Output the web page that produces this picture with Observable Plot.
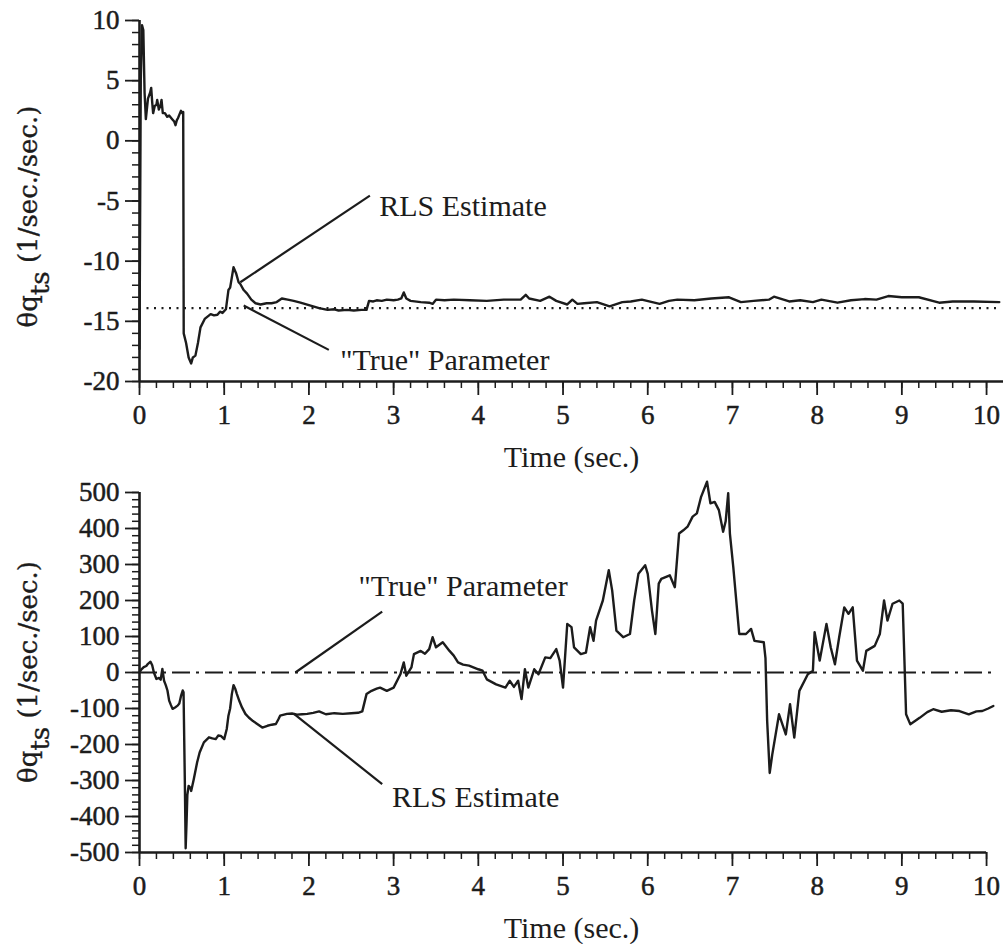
<!DOCTYPE html>
<html>
<head>
<meta charset="utf-8">
<script src="https://cdn.jsdelivr.net/npm/d3@7"></script>
<script src="https://cdn.jsdelivr.net/npm/@observablehq/plot@0.6"></script>
<style>
  html, body { margin: 0; padding: 0; background: #fff; }
  #chart svg { display: block; }
</style>
</head>
<body>
<div id="chart"></div>
<script>
// ---- data ----
const timeTicks = [0, 1, 2, 3, 4, 5, 6, 7, 8, 9, 10];
const topYTicks = [-20, -15, -10, -5, 0, 5, 10];
const bottomYTicks = [-500, -400, -300, -200, -100, 0, 100, 200, 300, 400, 500];
const xLabel = "Time (sec.)";
const trueTop = -13.9;     // "True" parameter, upper panel
const trueBottom = 0;      // "True" parameter, lower panel

// upper panel RLS estimate [time, value]
const rlsTop = [
  [0, -17.3], [0.015, 5.0], [0.03, 9.6], [0.045, 9.2], [0.06, 4.0], [0.075, 1.8], [0.1, 3.5], [0.125, 4.0],
  [0.138, 4.4], [0.15, 3.2], [0.161, 2.3], [0.18, 2.9], [0.2, 3.0], [0.209, 3.4], [0.228, 2.6], [0.25, 3.0],
  [0.26, 3.4], [0.275, 2.3], [0.3, 2.3], [0.327, 2.0], [0.35, 2.1], [0.386, 1.8], [0.41, 1.6], [0.425, 1.3],
  [0.44, 1.7], [0.455, 1.9], [0.472, 2.2], [0.49, 2.5], [0.505, 2.3], [0.516, 2.4], [0.522, -16.0], [0.55, -16.8],
  [0.58, -18.0], [0.61, -18.5], [0.63, -18.0], [0.66, -17.85], [0.69, -16.8], [0.72, -15.5], [0.77, -14.8],
  [0.84, -14.4], [0.88, -14.5], [0.92, -14.45], [0.95, -14.2], [0.98, -14.3], [1.02, -14.0], [1.05, -12.4],
  [1.07, -12.2], [1.11, -10.5], [1.14, -11.0], [1.17, -11.75], [1.19, -11.9], [1.23, -12.4], [1.27, -12.7],
  [1.32, -13.2], [1.37, -13.5], [1.43, -13.6], [1.5, -13.5], [1.56, -13.5], [1.62, -13.4], [1.68, -13.1],
  [1.75, -13.2], [1.82, -13.3], [1.9, -13.45], [2.02, -13.7], [2.12, -13.9], [2.22, -14.05], [2.3, -14.0],
  [2.35, -14.1], [2.45, -14.05], [2.53, -14.1], [2.62, -14.05], [2.68, -14.05], [2.71, -13.3], [2.76, -13.35],
  [2.8, -13.25], [2.86, -13.3], [2.92, -13.2], [3.0, -13.25], [3.05, -13.2], [3.09, -13.1], [3.12, -12.6],
  [3.15, -13.1], [3.2, -13.3], [3.32, -13.4], [3.42, -13.45], [3.46, -13.55], [3.5, -13.2], [3.6, -13.25],
  [3.71, -13.2], [3.9, -13.25], [4.1, -13.3], [4.3, -13.2], [4.5, -13.2], [4.56, -12.8], [4.6, -13.1],
  [4.73, -13.3], [4.84, -12.95], [4.92, -13.3], [5.05, -13.6], [5.11, -13.2], [5.17, -13.55], [5.25, -13.5],
  [5.4, -13.4], [5.55, -13.75], [5.7, -13.4], [5.8, -13.35], [5.93, -13.2], [6.14, -13.55], [6.25, -13.3],
  [6.35, -13.2], [6.55, -13.25], [6.75, -13.1], [6.96, -13.0], [7.1, -13.4], [7.25, -13.3], [7.43, -13.2],
  [7.49, -12.95], [7.67, -13.35], [7.8, -13.25], [7.95, -13.4], [8.05, -13.2], [8.24, -13.45], [8.4, -13.25],
  [8.56, -13.15], [8.7, -13.2], [8.84, -12.9], [9.0, -13.0], [9.2, -13.0], [9.44, -13.45], [9.6, -13.35],
  [9.85, -13.35], [10.15, -13.4]
];

// lower panel RLS estimate [time, value]
const rlsBottom = [
  [0, 0], [0.02, 8], [0.05, 15], [0.08, 18], [0.1, 24], [0.13, 30], [0.15, 20], [0.17, 0], [0.2, -18],
  [0.23, -15], [0.25, -20], [0.27, 10], [0.29, -23], [0.31, -35], [0.33, -50], [0.35, -78], [0.37, -90],
  [0.39, -101], [0.42, -97], [0.45, -92], [0.47, -86], [0.49, -65], [0.51, -50], [0.52, -55], [0.535, -300],
  [0.545, -488], [0.555, -420], [0.565, -340], [0.58, -315], [0.6, -320], [0.61, -329], [0.64, -297],
  [0.68, -250], [0.71, -222], [0.76, -194], [0.82, -180], [0.86, -183], [0.9, -185], [0.93, -175],
  [0.96, -176], [1.0, -185], [1.03, -157], [1.05, -120], [1.07, -100], [1.09, -60], [1.11, -35], [1.13, -45],
  [1.15, -60], [1.18, -80], [1.21, -97], [1.25, -115], [1.29, -125], [1.34, -135], [1.39, -143], [1.45, -153],
  [1.51, -148], [1.56, -145], [1.61, -143], [1.64, -130], [1.66, -120], [1.74, -115], [1.8, -114],
  [1.86, -117], [1.92, -116], [1.98, -115], [2.05, -112], [2.12, -108], [2.2, -116], [2.3, -113], [2.4, -115],
  [2.5, -113], [2.58, -112], [2.63, -108], [2.68, -60], [2.74, -51], [2.8, -45], [2.84, -42], [2.92, -51],
  [3.0, -42], [3.08, -5], [3.12, 28], [3.15, -9], [3.21, 14], [3.24, 51], [3.32, 60], [3.37, 52], [3.42, 65],
  [3.46, 98], [3.5, 70], [3.58, 84], [3.66, 60], [3.71, 47], [3.76, 28], [3.82, 22], [3.89, 19], [4.0, 9],
  [4.05, 5], [4.1, -19], [4.21, -33], [4.32, -42], [4.37, -23], [4.42, -40], [4.47, -23], [4.51, -74],
  [4.55, 9], [4.59, -42], [4.66, 9], [4.71, -5], [4.79, 42], [4.85, 40], [4.92, 65], [4.96, 33], [5.0, -42],
  [5.05, 135], [5.1, 126], [5.13, 70], [5.21, 51], [5.27, 55], [5.32, 126], [5.36, 88], [5.39, 144],
  [5.47, 200], [5.54, 284], [5.58, 228], [5.63, 116], [5.71, 98], [5.79, 107], [5.84, 200], [5.89, 274],
  [5.97, 298], [6.0, 274], [6.05, 172], [6.09, 107], [6.13, 247], [6.16, 260], [6.26, 270], [6.32, 237],
  [6.37, 386], [6.42, 395], [6.47, 405], [6.53, 433], [6.58, 442], [6.63, 488], [6.7, 530], [6.74, 470],
  [6.79, 474], [6.84, 451], [6.89, 391], [6.92, 420], [6.95, 498], [6.97, 386], [7.01, 293], [7.08, 107],
  [7.16, 107], [7.22, 121], [7.26, 88], [7.37, 84], [7.39, 40], [7.41, -135], [7.44, -279], [7.47, -228],
  [7.55, -116], [7.63, -172], [7.68, -88], [7.73, -181], [7.79, -51], [7.89, -5], [7.95, 5], [7.97, 112],
  [8.03, 33], [8.11, 135], [8.16, 70], [8.21, 23], [8.26, 98], [8.32, 181], [8.37, 163], [8.42, 181],
  [8.47, 33], [8.54, 5], [8.58, 60], [8.68, 74], [8.74, 107], [8.79, 200], [8.83, 144], [8.89, 191],
  [8.97, 200], [9.01, 191], [9.05, -116], [9.1, -144], [9.21, -126], [9.3, -110], [9.37, -102], [9.47, -109],
  [9.58, -105], [9.68, -107], [9.79, -116], [9.88, -108], [9.95, -107], [10.02, -100], [10.08, -93]
];

// annotations: leader lines [t1, v1, t2, v2] and labels [t, v, text]
const leadersTop = [[1.19, -11.75, 2.72, -4.55], [1.23, -13.69, 2.235, -17.37]];
const labelsTop = [[2.83, -5.45, "RLS Estimate"], [2.37, -18.26, "\"True\" Parameter"]];
const leadersBottom = [[1.84, 0, 2.865, 169], [1.82, -114.5, 2.865, -310]];
const labelsBottom = [[2.585, 239, "\"True\" Parameter"], [2.98, -347, "RLS Estimate"]];

// ---- chart ----
const INK = "#1c1c1c";
const SERIF = "Liberation Serif";
const xDomain = [0, 10.2];
const xMinor = d3.range(0, 10.0001, 0.2).map(d => +d.toFixed(1));

function panel({yDomain, yMajor, yMinor, series, trueVal, trueEnd, trueDash, xAxisEnd, leaders, labels, height, marginTop, marginBottom, yLabelShift}) {
  const lineData = series.map(([t, v]) => ({t, v}));
  const plot = Plot.plot({
    width: 1007,
    height,
    marginLeft: 139,
    marginRight: 4,
    marginTop,
    marginBottom,
    x: {domain: xDomain},
    y: {domain: yDomain},
    style: {fontFamily: SERIF, fontSize: "27px", color: INK, background: "#fff", overflow: "visible"},
    marks: [
      // minor ticks
      Plot.tickY(yMinor, {y: d => d, frameAnchor: "left", dx: 0}) && Plot.axisY({ticks: yMinor, tickSize: 7, strokeWidth: 1.5, tickFormat: () => "", label: null}),
      Plot.axisX({ticks: xMinor, tickSize: 7, strokeWidth: 1.5, tickFormat: () => "", label: null}),
      // major ticks
      Plot.axisY({ticks: yMajor, tickSize: 14, strokeWidth: 1.8, tickFormat: () => "", label: null}),
      Plot.axisX({ticks: timeTicks, tickSize: 14, strokeWidth: 1.8, tickFormat: () => "", label: null}),
      // tick labels
      Plot.text(yMajor, {y: d => d, frameAnchor: "left", dx: -20, textAnchor: "end", lineAnchor: "middle",
        text: d => String(d), fontFamily: SERIF, fontSize: 27, fill: INK, stroke: INK, strokeWidth: 0.5}),
      Plot.text(timeTicks, {x: d => d, frameAnchor: "bottom", dy: 34, lineAnchor: "middle",
        text: d => String(d), fontFamily: SERIF, fontSize: 27, fill: INK, stroke: INK, strokeWidth: 0.5}),
      // axis lines
      Plot.ruleX([{x: 0, a: yDomain[0], b: yDomain[1]}], {x: "x", y1: "a", y2: "b", stroke: INK, strokeWidth: 2.6}),
      Plot.ruleY([{y: yDomain[0], a: 0, b: xAxisEnd}], {y: "y", x1: "a", x2: "b", stroke: INK, strokeWidth: 2.6}),
      // "True" parameter
      Plot.ruleY([{y: trueVal, a: 0, b: trueEnd}], {y: "y", x1: "a", x2: "b", stroke: INK, strokeWidth: 2.2, strokeDasharray: trueDash}),
      // RLS estimate
      Plot.line(lineData, {x: "t", y: "v", stroke: INK, strokeWidth: 2.4, strokeLinejoin: "round"}),
      // leaders & labels
      Plot.link(leaders, {x1: d => d[0], y1: d => d[1], x2: d => d[2], y2: d => d[3], stroke: INK, strokeWidth: 2.2}),
      Plot.text(labels, {x: d => d[0], y: d => d[1], text: d => d[2], textAnchor: "start", lineAnchor: "middle", fontSize: 30, fontFamily: SERIF, fill: INK}),
      Plot.text([xLabel], {frameAnchor: "bottom", dy: 76, lineAnchor: "middle", fontSize: 30, fontFamily: SERIF, fill: INK})
    ]
  });
  // y-axis title with subscript
  const yr = plot.scale("y").range;
  const cy = (yr[0] + yr[1]) / 2 + yLabelShift;
  const t = d3.select(plot).append("text")
    .attr("transform", `translate(37,${cy}) rotate(-90)`)
    .attr("text-anchor", "middle")
    .attr("fill", INK)
    .attr("stroke", INK)
    .attr("stroke-width", 0.35)
    .attr("font-family", "DejaVu Serif")
    .attr("font-size", 26);
  t.append("tspan").text("θq");
  t.append("tspan").attr("dy", 12).text("ts");
  t.append("tspan").attr("dy", -12).text(" (1/sec./sec.)");
  return plot;
}

const chart = document.getElementById("chart");
chart.append(panel({
  yDomain: [-20, 10], yMajor: topYTicks, yMinor: d3.range(-20, 10.001, 1),
  series: rlsTop, trueVal: trueTop, trueEnd: 10.15, trueDash: "2,5.5", xAxisEnd: 10.2,
  leaders: leadersTop, labels: labelsTop,
  height: 475, marginTop: 20, marginBottom: 94, yLabelShift: 16
}));
chart.append(panel({
  yDomain: [-500, 500], yMajor: bottomYTicks, yMinor: d3.range(-500, 500.001, 20),
  series: rlsBottom, trueVal: trueBottom, trueEnd: 10.1, trueDash: "18,6,3,6", xAxisEnd: 10,
  leaders: leadersBottom, labels: labelsBottom,
  height: 469, marginTop: 17, marginBottom: 92, yLabelShift: 0
}));
</script>
</body>
</html>
